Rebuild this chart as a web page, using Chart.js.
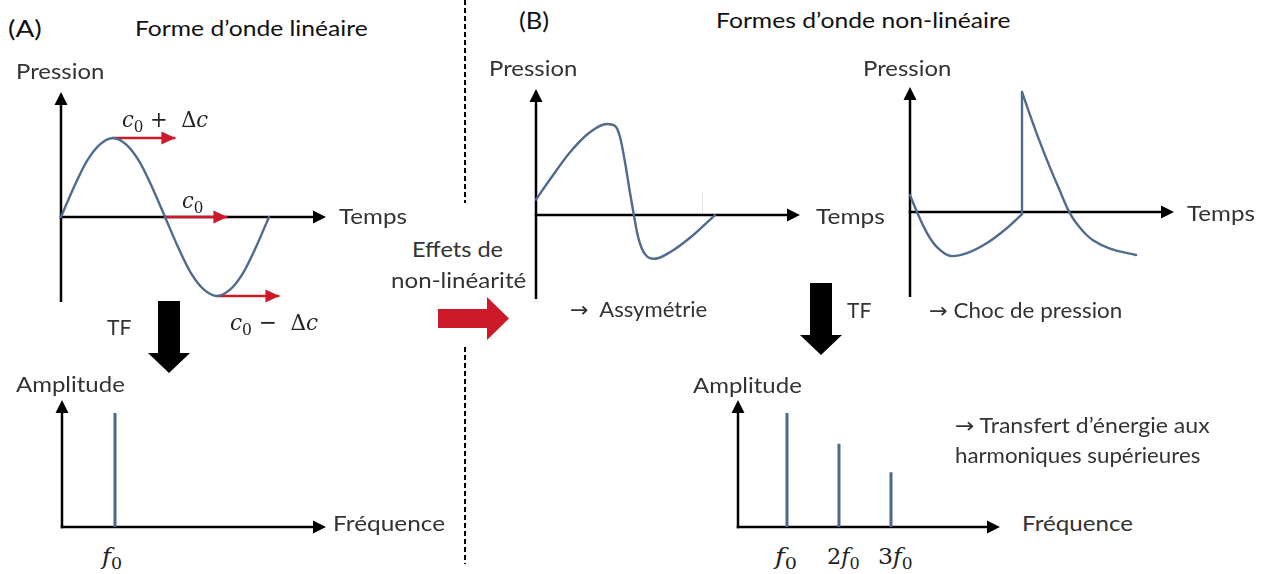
<!DOCTYPE html>
<html><head><meta charset="utf-8">
<script src="https://cdn.jsdelivr.net/npm/chart.js"></script>
<style>
html,body{margin:0;padding:0;background:#fff;width:1271px;height:574px;overflow:hidden;}
#stage{position:relative;width:1271px;height:574px;}
.plot{position:absolute;}
.plot canvas{display:block;}
.lbl{position:absolute;white-space:nowrap;font-family:Lato,'Open Sans',sans-serif;color:#333;line-height:30px;height:30px;transform-origin:0 50%;}
.ttl{color:#111;}
.math{font-family:'DejaVu Serif','Liberation Serif',serif;color:#222;}
.math i{font-style:italic;}
.sub{font-size:0.72em;position:relative;top:0.28em;font-style:normal;}
.arw{font-family:'DejaVu Sans',sans-serif;}
.shape{position:absolute;}
.dash{position:absolute;width:2px;background:repeating-linear-gradient(to bottom,#000 0 5px,transparent 5px 8px);}
</style></head><body><div id="stage"></div>
<script>
// ---------- DATA ----------
// (A) linear wave: time in periods, pressure normalised to amplitude
const sineT = [0,0.0625,0.125,0.1875,0.25,0.3125,0.375,0.4375,0.5,0.5625,0.625,0.6875,0.75,0.8125,0.875,0.9375,1];
const sineP = [0,0.38,0.71,0.92,1,0.92,0.71,0.38,0,-0.38,-0.71,-0.92,-1,-0.92,-0.71,-0.38,0];
// red propagation-speed arrows (start time, pressure level, length in periods)
const speedArrowT = [0.25,0.5,0.75];
const speedArrowP = [1,0,-1];
const speedArrowLen = 0.30;
// (A) spectrum
const specAFreq = [1];
const specAAmp = [1];
// (B) asymmetric wave
const asymT = [0,0.077,0.188,0.298,0.392,0.436,0.464,0.492,0.519,0.541,0.564,0.602,0.657,0.740,0.851,0.989];
const asymP = [0.17,0.39,0.69,0.91,1.0,0.98,0.86,0.58,0.25,0,-0.24,-0.43,-0.48,-0.41,-0.25,0];
// (B) shock wave
const shockRiseT = [0,0.0625,0.152,0.241,0.375,0.509,0.6875,0.866,1.0];
const shockRiseP = [0.142,0,-0.175,-0.292,-0.367,-0.342,-0.258,-0.133,-0.017];
const shockDecayT = [1.0,1.071,1.161,1.25,1.339,1.411,1.46,1.518,1.57,1.634,1.786,2.018];
const shockDecayP = [1.0,0.81,0.58,0.37,0.175,0.02,-0.06,-0.13,-0.185,-0.235,-0.305,-0.358];
// (B) spectrum with harmonics
const specBFreq = [1,2,3];
const specBAmp = [1,0.73,0.48];

// ---------- LAYOUT / STYLE ----------
const WAVE = 'rgb(80,107,140)';
const SPIKE = 'rgb(77,104,138)';
const RED = 'rgb(204,26,42)';
const PAD = 14;
const plots = {
  sineA:{l:61,t:92,r:326,b:302,x:[0,1.274],y:[-1.076,1.582]},
  specA:{l:62,t:400,r:326,b:527,x:[0,4.98],y:[0,1.114]},
  asym:{l:536,t:89,r:800,b:299,x:[0,1.459],y:[-0.923,1.385]},
  shock:{l:910,t:87,r:1174,b:297,x:[0,2.357],y:[-0.708,1.042]},
  specB:{l:738,t:400,r:1000,b:527,x:[0.058,5.096],y:[0,1.114]}
};
const stage = document.getElementById('stage');

const zip = (xs, ys) => xs.map((x,i)=>({x, y:ys[i]}));

const axesPlugin = {
  id:'arrowAxes',
  beforeDatasetsDraw(chart){
    const {ctx, chartArea:a, scales:{x, y}} = chart;
    const y0 = y.getPixelForValue(0);
    const HL = 13, HW = 6.5;
    ctx.save();
    ctx.strokeStyle = '#000'; ctx.fillStyle = '#000'; ctx.lineWidth = 2.5; ctx.lineCap = 'butt';
    ctx.beginPath(); ctx.moveTo(a.left, a.bottom + (y0 >= a.bottom-1 ? 1.25 : 0)); ctx.lineTo(a.left, a.top + HL); ctx.stroke();
    ctx.beginPath(); ctx.moveTo(a.left, a.top); ctx.lineTo(a.left - HW, a.top + HL); ctx.lineTo(a.left + HW, a.top + HL); ctx.closePath(); ctx.fill();
    ctx.beginPath(); ctx.moveTo(a.left - 1.25, y0); ctx.lineTo(a.right - HL, y0); ctx.stroke();
    ctx.beginPath(); ctx.moveTo(a.right, y0); ctx.lineTo(a.right - HL, y0 - HW); ctx.lineTo(a.right - HL, y0 + HW); ctx.closePath(); ctx.fill();
    ctx.restore();
  }
};
const headPlugin = {
  id:'arrowHeads',
  afterDatasetsDraw(chart){
    const {ctx} = chart;
    chart.data.datasets.forEach((ds, i) => {
      if (!ds.arrowHead) return;
      const pts = chart.getDatasetMeta(i).data;
      const p1 = pts[pts.length-1], p0 = pts[pts.length-2];
      const ang = Math.atan2(p1.y - p0.y, p1.x - p0.x);
      const HL = 14, HW = 6.5;
      ctx.save(); ctx.fillStyle = ds.borderColor;
      ctx.translate(p1.x, p1.y); ctx.rotate(ang);
      ctx.beginPath(); ctx.moveTo(0,0); ctx.lineTo(-HL,-HW); ctx.lineTo(-HL,HW); ctx.closePath(); ctx.fill();
      ctx.restore();
    });
  }
};

function makeChart(key, datasets){
  const L = plots[key];
  const w = L.r - L.l + 2*PAD, h = L.b - L.t + 2*PAD;
  const div = document.createElement('div');
  div.className = 'plot';
  div.style.left = (L.l - PAD) + 'px'; div.style.top = (L.t - PAD) + 'px';
  div.style.width = w + 'px'; div.style.height = h + 'px';
  const cv = document.createElement('canvas');
  cv.width = w; cv.height = h; cv.style.width = w + 'px'; cv.style.height = h + 'px';
  div.appendChild(cv); stage.appendChild(div);
  new Chart(cv, {
    type:'line',
    data:{datasets},
    options:{
      responsive:false, animation:false, events:[], devicePixelRatio:1,
      layout:{padding:PAD},
      plugins:{legend:{display:false}, tooltip:{enabled:false}},
      scales:{
        x:{type:'linear', min:L.x[0], max:L.x[1], display:false},
        y:{type:'linear', min:L.y[0], max:L.y[1], display:false}
      },
      elements:{point:{radius:0}}
    },
    plugins:[axesPlugin, headPlugin]
  });
}
const curve = (data) => ({data, borderColor:WAVE, borderWidth:2.4, cubicInterpolationMode:'monotone', borderJoinStyle:'round', borderCapStyle:'round', clip:false, fill:false});
const spikes = (fs, as) => fs.map((f,i)=>({data:[{x:f,y:0},{x:f,y:as[i]}], borderColor:SPIKE, borderWidth:3, borderCapStyle:'butt', clip:false, fill:false}));

// (A) linear wave with propagation arrows
makeChart('sineA', [
  curve(zip(sineT, sineP)),
  ...speedArrowT.map((t,i)=>({data:[{x:t,y:speedArrowP[i]},{x:t+speedArrowLen,y:speedArrowP[i]}], borderColor:RED, borderWidth:2.5, borderCapStyle:'butt', arrowHead:true, clip:false, fill:false}))
]);
makeChart('specA', spikes(specAFreq, specAAmp));
makeChart('asym', [curve(zip(asymT, asymP))]);
makeChart('shock', [
  curve(zip(shockRiseT, shockRiseP)),
  {data:[{x:shockRiseT[shockRiseT.length-1], y:shockRiseP[shockRiseP.length-1]},{x:shockDecayT[0], y:shockDecayP[0]}], borderColor:WAVE, borderWidth:2.4, borderCapStyle:'round', clip:false, fill:false},
  curve(zip(shockDecayT, shockDecayP))
]);
makeChart('specB', spikes(specBFreq, specBAmp));

// ---------- SHAPES ----------
function shape(l,t,w,h,color,poly){
  const d = document.createElement('div'); d.className='shape';
  d.style.cssText += `left:${l}px;top:${t}px;width:${w}px;height:${h}px;background:${color};clip-path:polygon(${poly})`;
  stage.appendChild(d);
}
const downArrow = '10px 0,32px 0,32px 52px,42px 52px,21px 72px,0 52px,10px 52px';
shape(148,301,42,72,'#000',downArrow);
shape(800,283,42,72,'#000',downArrow);
shape(438,297,71,43,RED,'0 12px,49px 12px,49px 0,71px 21.5px,49px 43px,49px 31px,0 31px');
function dash(x,t,h){const d=document.createElement('div');d.className='dash';d.style.left=x+'px';d.style.top=t+'px';d.style.height=h+'px';stage.appendChild(d);}
dash(464,0,203); dash(464,347,217);
(()=>{const d=document.createElement('div');d.style.cssText='position:absolute;left:702px;top:192px;width:1px;height:21px;background:#e4e4e4';stage.appendChild(d);})();

// ---------- TEXT ----------
const c0 = '<i>c</i><span class="sub">0</span>';
const f0 = '<i>f</i><span class="sub">0</span>';
const texts = [
  ['(A)',8,28,34,23,'ttl'],
  ['Forme d’onde linéaire',135,28,233,22,'ttl'],
  ['(B)',519,20,30,23,'ttl'],
  ['Formes d’onde non-linéaire',716,20,294,22,'ttl'],
  ['Pression',16,71,88,22,''],
  ['Temps',339,216,68,22,''],
  [c0+' + &nbsp;Δ<i>c</i>',122,119,86,23,'math'],
  [c0,182,200,21,23,'math'],
  [c0+' − &nbsp;Δ<i>c</i>',230,322,88,23,'math'],
  ['TF',107,327,24,22,''],
  ['Amplitude',16,384,109,22,''],
  ['Fréquence',333,523,112,22,''],
  [f0,102,556,20,23,'math'],
  ['Effets de',412,249,91,22,''],
  ['non-linéarité',391,280,135,22,''],
  ['Pression',489,68,88,22,''],
  ['Temps',816,216,69,22,''],
  ['<span class="arw">→</span>&nbsp; Assymétrie',570,309,137,21,''],
  ['TF',847,310,24,22,''],
  ['<span class="arw">→</span> Choc de pression',929,310,193,21,''],
  ['Pression',863,68,88,22,''],
  ['Temps',1187,213,68,22,''],
  ['Amplitude',693,385,109,22,''],
  ['<span class="arw">→</span> Transfert d’énergie aux',955,425,255,21,''],
  ['harmoniques supérieures',955,455,245,21,''],
  ['Fréquence',1022,523,111,22,''],
  [f0,775,556,22,23,'math'],
  ['2'+f0,827,556,33,23,'math'],
  ['3'+f0,878,556,35,23,'math']
];
const els = texts.map(([html,x,cy,w,size,cls])=>{
  const d = document.createElement('div');
  d.className = 'lbl ' + cls;
  d.innerHTML = html;
  d.style.left = x + 'px'; d.style.top = (cy - 15) + 'px'; d.style.fontSize = size + 'px';
  d.dataset.w = w;
  stage.appendChild(d);
  return d;
});
function fit(){
  els.forEach(d=>{ d.style.transform='none'; const nw = d.scrollWidth || d.offsetWidth; if (nw>0) d.style.transform = `scaleX(${(+d.dataset.w)/nw})`; });
}
fit();
if (document.fonts && document.fonts.ready) document.fonts.ready.then(fit);
</script>
</body></html>
